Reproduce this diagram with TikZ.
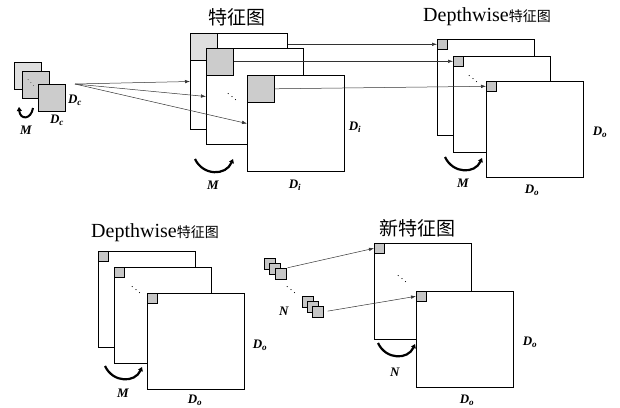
\documentclass[tikz,border=0pt]{standalone}
\usepackage{fontspec}
\setmainfont{Liberation Serif}
\newfontfamily\cjk{Noto Sans CJK SC}
\usetikzlibrary{arrows.meta}
\newcommand{\dlab}[1]{\textbf{\textit{D}}\textsubscript{\textbf{\textit{#1}}}}
\begin{document}
\begin{tikzpicture}[x=1pt,y=-1pt]
	% styles
	\tikzstyle{fmap} = [draw,fill=white,line width=1pt,inner sep=0pt,anchor=north west,minimum width=97pt,minimum height=96pt]
	\tikzstyle{bigpatch} = [draw,fill=gray!40,line width=0.6pt,inner sep=0pt,anchor=north west,minimum size=27pt]
	\tikzstyle{smallpatch} = [draw,fill=gray!45,line width=0.6pt,inner sep=0pt,anchor=north west,minimum size=10pt]
	\tikzstyle{kern} = [draw,fill=gray!40,line width=0.8pt,inner sep=0pt,anchor=north west]
	\tikzstyle{conn} = [draw=black!80,line width=0.5pt,-{Latex[length=5pt,width=3.5pt]}]
	\tikzstyle{turn} = [line width=2.2pt,-{Triangle[length=4pt,width=5pt]}]
	\tikzstyle{lab} = [font=\fontsize{13}{15}\selectfont,inner sep=0pt]
	\tikzstyle{bigtitle} = [font=\cjk\fontsize{19}{21}\selectfont,inner sep=0pt]
	
	% bounding box
	\useasboundingbox (0,0) rectangle (620,407);
	
	% titles
	\node[bigtitle] (t1) at (237,17) {特征图};
	\node[inner sep=0pt] (t2) at (487,17) {\fontsize{20}{22}\selectfont Depthwise{\cjk\fontsize{14}{16}\selectfont 特征图}};
	\node[inner sep=0pt] (t3) at (155,233) {\fontsize{20}{22}\selectfont Depthwise{\cjk\fontsize{14}{16}\selectfont 特征图}};
	\node[bigtitle] (t4) at (417,228) {新特征图};
	
	% kernel
	\node[kern,fill=gray!25,minimum size=27pt] (k1) at (14,62) {};
	\node[kern,minimum size=27pt] (k2) at (22,71) {};
	\node[kern,minimum size=27pt] (k3) at (38,84) {};
	\node[inner sep=0pt,font=\scriptsize] (kd) at (31,80) {$\ddots$};
	\node[lab] (kdr) at (75,100) {\dlab{c}};
	\node[lab] (kdb) at (57,120) {\dlab{c}};
	\node[lab] (km) at (26,130) {\textbf{\textit{M}}};
	\draw[turn,line width=2pt] (33,108) .. controls (31,120) and (20,120) .. (19,107);
	\coordinate (kc) at (75,84);
	
	% feature maps
	\node[fmap] (L1) at (190,33) {};
	\node[bigpatch,fill=gray!25] (P1) at (L1.north west) {};
	\node[fmap] (L2) at (206,48) {};
	\node[bigpatch] (P2) at (L2.north west) {};
	\node[fmap] (L3) at (247,75) {};
	\node[bigpatch] (P3) at (L3.north west) {};
	\node[inner sep=0pt] (ld) at (232,94) {$\ddots$};
	\node[lab] (ldr) at (355,127) {\dlab{i}};
	\node[lab] (ldb) at (295,185) {\dlab{i}};
	\node[lab] (lm) at (213,185) {\textbf{\textit{M}}};
	\draw[turn] (195,159) .. controls (203,176) and (226,176) .. (233,159);
	
	% depthwise maps (top)
	\node[fmap] (R1) at (437,39) {};
	\node[smallpatch] (Q1) at (R1.north west) {};
	\node[fmap] (R2) at (453,56) {};
	\node[smallpatch] (Q2) at (R2.north west) {};
	\node[fmap] (R3) at (486,81) {};
	\node[smallpatch] (Q3) at (R3.north west) {};
	\node[inner sep=0pt] (rd) at (473,76) {$\ddots$};
	\node[lab] (rdr) at (600,132) {\dlab{o}};
	\node[lab] (rdb) at (532,190) {\dlab{o}};
	\node[lab] (rm) at (463,183) {\textbf{\textit{M}}};
	\draw[turn] (445,157) .. controls (453,174) and (475,174) .. (482,158);
	
	% depthwise maps (bottom)
	\node[fmap] (B1) at (98,251) {};
	\node[smallpatch] (S1) at (B1.north west) {};
	\node[fmap] (B2) at (114,267) {};
	\node[smallpatch] (S2) at (B2.north west) {};
	\node[fmap] (B3) at (147,293) {};
	\node[smallpatch] (S3) at (B3.north west) {};
	\node[inner sep=0pt] (bd) at (136,287) {$\ddots$};
	\node[lab] (bdr) at (260,345) {\dlab{o}};
	\node[lab] (bdb) at (195,400) {\dlab{o}};
	\node[lab] (bm) at (123,393) {\textbf{\textit{M}}};
	\draw[turn] (105,366) .. controls (113,383) and (135,383) .. (142,367);
	
	% pointwise kernels
	\foreach \i/\x/\y in {1/264/258,2/269/263,3/275/268}
	{
		\node[kern,fill=gray!45,line width=0.6pt,minimum size=11pt] (ka\i) at (\x,\y) {};
	}
	\foreach \i/\x/\y in {1/302/296,2/307/301,3/312/306}
	{
		\node[kern,fill=gray!45,line width=0.6pt,minimum size=11pt] (kb\i) at (\x,\y) {};
	}
	\node[inner sep=0pt] (nd) at (291,287) {$\ddots$};
	\node[lab] (nn) at (284,311) {\textbf{\textit{N}}};
	
	% new feature maps
	\node[fmap] (C1) at (374,243) {};
	\node[smallpatch] (U1) at (C1.north west) {};
	\node[fmap] (C2) at (416,291) {};
	\node[smallpatch] (U2) at (C2.north west) {};
	\node[inner sep=0pt] (cd) at (402,276) {$\ddots$};
	\node[lab] (cdr) at (530,342) {\dlab{o}};
	\node[lab] (cdb) at (467,400) {\dlab{o}};
	\node[lab] (cn) at (395,372) {\textbf{\textit{N}}};
	\draw[turn] (378,343) .. controls (386,360) and (408,360) .. (415,344);
	
	% connections
	\path[conn] (kc) -- (L1.west);
	\path[conn] (kc) -- (L2.west);
	\path[conn] (kc) -- (L3.west);
	\path[conn] (L1.east |- Q1.west) -- (Q1.west);
	\path[conn] (P2.east |- Q2.west) -- (Q2.west);
	\path[conn] (P3.east) -- (Q3.west);
	\path[conn,shorten <=1pt] (ka3.north east) -- (U1.west);
	\path[conn,shorten <=4pt] (kb3.east) -- (U2.west);
\end{tikzpicture}
\end{document}
